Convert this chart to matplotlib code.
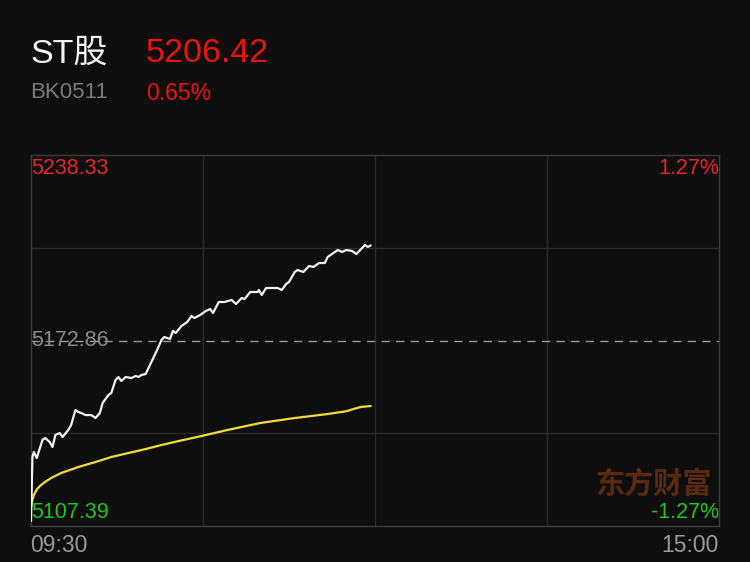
import matplotlib
matplotlib.use("Agg")
import matplotlib.pyplot as plt

# ── Data ──────────────────────────────────────────────────────────────────────
name = "ST股"
code = "BK0511"
last_price = "5206.42"
last_pct = "0.65%"

prev_close = 5172.86
y_high, y_low = 5238.33, 5107.39
pct_high, pct_low = "1.27%", "-1.27%"
time_labels = ["09:30", "15:00"]

# minutes since 09:30 / index price
price_min = [0, 0.5, 1, 2, 4, 5, 6.5, 7.5, 8.5, 10, 11, 13, 14, 15.5, 16.5, 17.5,
             19, 21, 22.5, 24, 25, 27, 28, 29.5, 30.5, 31.5, 33, 35, 36.5, 37.5,
             38.5, 40, 41, 42, 44, 45.5, 46.5, 48.5, 49.5, 50.5, 52.5, 54.5, 56,
             57, 59, 61, 62.5, 63.5, 65.5, 67.5, 70, 71.5, 73.5, 74.5, 76.5, 79,
             79.5, 80.5, 82, 84, 86, 87.5, 89, 90, 92, 93, 95, 97, 98.5, 100.5,
             102.5, 103.5, 105, 107, 108.5, 110, 112, 113.5, 114.5, 116.5, 117.5,
             118.5]
price = [5109.14, 5131.74, 5133.50, 5131.38, 5137.74, 5138.44, 5137.03, 5135.27,
         5139.50, 5140.21, 5138.80, 5141.27, 5143.03, 5148.33, 5147.62, 5147.27,
         5146.56, 5146.56, 5145.50, 5147.27, 5150.80, 5153.62, 5154.33, 5158.92,
         5159.98, 5158.56, 5159.98, 5159.62, 5160.33, 5159.98, 5160.68, 5161.03,
         5163.15, 5165.27, 5169.51, 5173.04, 5174.10, 5173.39, 5176.21, 5175.51,
         5177.98, 5179.39, 5181.51, 5180.80, 5181.86, 5183.27, 5183.98, 5182.57,
         5186.45, 5186.45, 5187.16, 5185.74, 5187.86, 5187.51, 5189.98, 5189.98,
         5190.69, 5188.92, 5191.39, 5191.39, 5191.39, 5190.69, 5192.80, 5193.51,
         5197.04, 5197.75, 5197.04, 5199.16, 5198.81, 5200.22, 5200.22, 5202.34,
         5203.39, 5204.81, 5204.10, 5204.81, 5204.45, 5203.39, 5204.45, 5206.57,
         5205.87, 5206.42]

avg_min = [0, 0.5, 1, 2, 3.5, 5, 7, 10.5, 16.5, 22.5, 28, 34, 40, 45.5, 51.5,
           59.5, 68.5, 80, 92, 103.5, 110, 112.5, 115, 118.5]
avg_price = [5114.09, 5116.56, 5118.32, 5120.3, 5121.85, 5123.0, 5124.32, 5126.09,
             5128.21, 5129.97, 5131.74, 5133.15, 5134.56, 5135.97, 5137.38,
             5139.15, 5141.27, 5143.74, 5145.50, 5146.91, 5147.9, 5148.68,
             5149.39, 5149.74]

# ── Style ─────────────────────────────────────────────────────────────────────
BG = "#0e0e0e"
RED = "#e8262a"
GREEN = "#1ec81e"
FONT = ["Liberation Sans", "Noto Sans CJK SC", "DejaVu Sans"]
plt.rcParams["font.family"] = FONT

W, H = 750, 562
fig = plt.figure(figsize=(W / 100, H / 100), dpi=100, facecolor=BG)


def fx(px):
    return px / W


def fy(py):
    return 1 - py / H


# header
fig.text(fx(30), fy(54), name, color="#f2f2f2", fontsize=24.5, va="center")
fig.text(fx(146), fy(54), last_price, color="#ee1111", fontsize=24.5, va="center")
fig.text(fx(30), fy(93), code, color="#7a7a7a", fontsize=16, va="center")
fig.text(fx(146), fy(93), last_pct, color="#ee1111", fontsize=16.5, va="center")

# chart
ax = fig.add_axes([fx(31), fy(526), fx(719) - fx(31), fy(155) - fy(526)])
ax.set_facecolor(BG)
ax.set_xlim(0, 240)
ax.set_ylim(y_low, y_high)
for s in ax.spines.values():
    s.set_color("#3c3c3c")
    s.set_linewidth(1)
ax.set_xticks([])
ax.set_yticks([])

for m in (60, 120, 180):
    ax.axvline(m, color="#2a2a2a", lw=1, zorder=1)
span = y_high - y_low
for q in (0.25, 0.75):
    ax.axhline(y_low + span * q, color="#2a2a2a", lw=1, zorder=1)
ax.axhline(prev_close, color="#9a9a9a", lw=1, dashes=(6, 4.5), zorder=2)

ax.plot(avg_min, avg_price, color="#f2dc3a", lw=1.6, zorder=3,
        solid_joinstyle="round", solid_capstyle="round")
ax.plot(price_min, price, color="#f2f2f2", lw=1.6, zorder=4,
        solid_joinstyle="round", solid_capstyle="round")

# watermark
ax.text(0.99, 0.115, "东方财富", transform=ax.transAxes, ha="right", va="center",
        fontsize=21, fontweight="bold", color="#5a2a10",
        family=["Noto Sans CJK SC"], zorder=2)

# price / pct labels
ax.text(0.0, 0.992, f"{y_high:.2f}", transform=ax.transAxes, ha="left", va="top",
        color=RED, fontsize=15.5, zorder=5)
ax.text(0.0, 0.5, f"{prev_close:.2f}", transform=ax.transAxes, ha="left",
        va="center", color="#8a8a8a", fontsize=15.5, zorder=5)
ax.text(0.0, 0.008, f"{y_low:.2f}", transform=ax.transAxes, ha="left",
        va="bottom", color=GREEN, fontsize=15.5, zorder=5)
ax.text(1.0, 0.992, pct_high, transform=ax.transAxes, ha="right", va="top",
        color=RED, fontsize=15.5, zorder=5)
ax.text(1.0, 0.008, pct_low, transform=ax.transAxes, ha="right", va="bottom",
        color=GREEN, fontsize=15.5, zorder=5)

# time labels
fig.text(fx(30), fy(545), time_labels[0], color="#9a9a9a", fontsize=16.5,
         ha="left", va="center")
fig.text(fx(719), fy(545), time_labels[1], color="#9a9a9a", fontsize=16.5,
         ha="right", va="center")

fig.savefig("out.png", dpi=100, facecolor=BG)
